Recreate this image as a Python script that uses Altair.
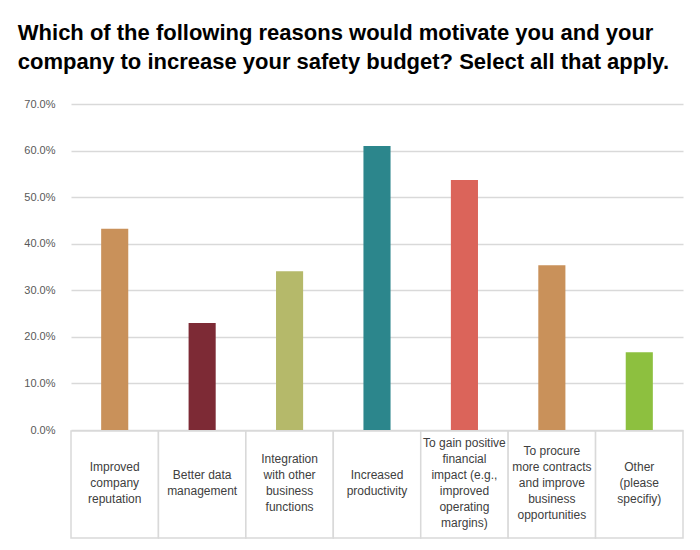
import altair as alt
import pandas as pd

categories = [
    "Improved\ncompany\nreputation",
    "Better data\nmanagement",
    "Integration\nwith other\nbusiness\nfunctions",
    "Increased\nproductivity",
    "To gain positive\nfinancial\nimpact (e.g.,\nimproved\noperating\nmargins)",
    "To procure\nmore contracts\nand improve\nbusiness\nopportunities",
    "Other\n(please\nspecifiy)",
]
values = [0.432, 0.230, 0.341, 0.610, 0.537, 0.354, 0.167]
colors = ["#C9915A", "#7D2A35", "#B5B96A", "#2C868C", "#DB645A", "#C9915A", "#8DC03F"]
y_ticks = [0.0, 0.1, 0.2, 0.3, 0.4, 0.5, 0.6, 0.7]
title_lines = [
    "Which of the following reasons would motivate you and your",
    "company to increase your safety budget? Select all that apply.",
]

LINE_H = 16
df = pd.DataFrame({"label": categories, "value": values})
df["shift"] = [-(c.count("\n")) * LINE_H / 2 - 2 for c in categories]

FONT = "Liberation Sans"
W = 612

bars = alt.Chart(df).mark_bar().encode(
    x=alt.X("label:N", sort=categories, axis=None,
            scale=alt.Scale(paddingInner=0.69, paddingOuter=0.345)),
    y=alt.Y("value:Q", scale=alt.Scale(domain=[0, 0.7]),
            axis=alt.Axis(format=".1%", values=y_ticks, grid=True, gridColor="#d9d9d9",
                          gridWidth=1.5, domain=False, ticks=False, labelPadding=16,
                          labelFont=FONT, labelFontSize=11, labelColor="#595959", title=None)),
    color=alt.Color("label:N", scale=alt.Scale(domain=categories, range=colors), legend=None),
).properties(width=W, height=326)

xs = alt.X("label:N", sort=categories, axis=None, scale=alt.Scale(paddingInner=0, paddingOuter=0))
cells = alt.Chart(df).mark_rect(fill="white", stroke="#d9d9d9", strokeWidth=1.5).encode(x=xs)
texts = alt.Chart(df).mark_text(lineBreak="\n", font=FONT, fontSize=12, color="#404040",
                                lineHeight=LINE_H, baseline="middle").encode(
    x=xs, text="label:N", yOffset=alt.YOffset("shift:Q", scale=None))
table = (cells + texts).properties(width=W, height=107)

chart = alt.vconcat(bars, table, spacing=1).resolve_scale(x="independent", color="independent").properties(
    title=alt.TitleParams(text=title_lines, anchor="start", font=FONT, fontSize=22, fontWeight="bold",
                          color="#000000", lineHeight=29, dx=-6, offset=24),
    bounds="flush",
    padding={"left": 9, "top": 14, "right": 5, "bottom": 5},
).configure_view(stroke=None)

chart.save("out.html", embed_options={"renderer": "svg", "actions": False})
